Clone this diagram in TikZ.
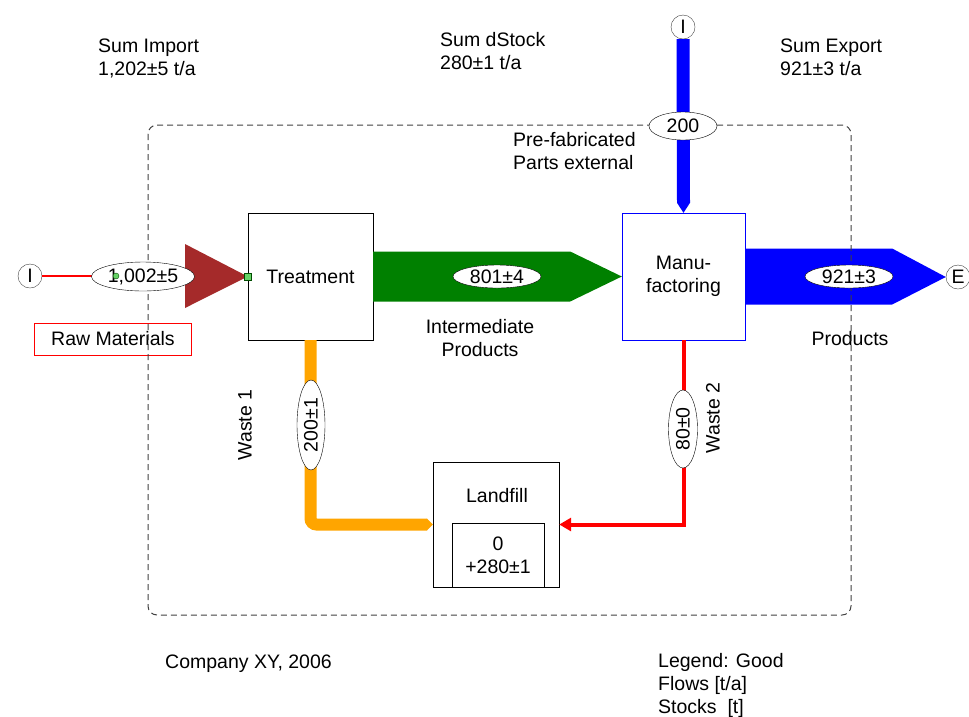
\documentclass[tikz,border=0pt]{standalone}
\usepackage{fontspec}
\setmainfont{Liberation Sans}
\usepackage{tikz}
\usetikzlibrary{arrows.meta,calc,positioning,shapes.geometric}
\definecolor{goodgreen}{RGB}{0,128,0}
\definecolor{goodblue}{RGB}{0,0,255}
\definecolor{rawred}{RGB}{165,42,42}
\definecolor{wasteorange}{RGB}{255,165,0}
\definecolor{wastered}{RGB}{255,0,0}

\begin{document}
\begin{tikzpicture}[
  x=1pt,y=-1pt,
  font=\fontsize{19.5}{23}\selectfont,
  process/.style={rectangle,draw=black,fill=white,minimum width=125pt,minimum height=127pt,inner sep=0pt},
  valbox/.style={ellipse,draw=black,fill=white,inner sep=0pt,minimum width=88pt,minimum height=23pt},
  terminal/.style={circle,draw=black!75,fill=white,inner sep=0pt,minimum size=24pt},
  txt/.style={align=left,anchor=north west,inner sep=0pt},
  boundary/.style={draw=black!75,line width=1pt,dash pattern=on 6pt off 4pt,rounded corners=9pt},
  waste/.style={rotate=90,inner sep=0pt}
]
\useasboundingbox (0,0) rectangle (969,716);
% Processes
\node[process] (treat) at (310.5,276.5) {Treatment};
\node[process,draw=goodblue,minimum width=123pt,align=center] (manu) at (683.5,276.5) {Manu-\\factoring};
\node[process,minimum width=126pt,minimum height=125pt] (landfill) at (496,524.5) {};
\node[rectangle,draw=black,minimum width=92pt,minimum height=64pt,align=center,inner sep=0pt]
  (stock) at (498,555) {0\\+280±1};
\node[inner sep=0pt] (lflabel) at (497,496) {Landfill};
% Import / export terminals
\node[terminal] (imp1) at (30,276) {I};
\node[terminal] (imp2) at (683,27) {I};
\node[terminal] (exp1) at (958,277) {E};
\node[rectangle,draw=wastered,minimum width=157pt,minimum height=32pt,inner sep=0pt]
  (rawlab) at (113,339) {Raw Materials};
\coordinate (rawbase) at (185,276);
% Flows
\draw[wastered,line width=1.2pt] (imp1) -- (rawbase);
\fill[rawred] ($(rawbase)+(0,-32)$) -- (treat.west) -- ($(rawbase)+(0,32)$) -- cycle;
\fill[goodgreen] ($(treat.east)+(0,-25)$) -- ++(197,0) -- (manu.west)
  -- ($(treat.east)+(197,25)$) -- ($(treat.east)+(0,25)$) -- cycle;
\fill[goodblue] ($(manu.east)+(0,-28)$) -- ++(147,0) -- (exp1.west)
  -- ($(manu.east)+(147,28)$) -- ($(manu.east)+(0,28)$) -- cycle;
\fill[goodblue] ($(imp2.south)+(-6.5,0)$) -- ($(manu.north)+(-6.5,-10)$) -- (manu.north)
  -- ($(manu.north)+(6.5,-10)$) -- ($(imp2.south)+(6.5,0)$) -- cycle;
\draw[wasteorange,line width=12pt,rounded corners=6pt,-{Triangle[length=6pt,width=12pt]}]
  (treat.south) |- (landfill.west);
\draw[wastered,line width=4pt,-{Triangle[length=12pt,width=13pt]}]
  (manu.south) |- (landfill.east);
% Texts
\node[txt] (pretext) at (513,132) {Pre-fabricated\\Parts external};
\node[align=center,anchor=north,inner sep=0pt] (intlab) at (480,319) {Intermediate\\Products};
\node[inner sep=0pt] (prodlab) at (850,339) {Products};
\node[waste] (w1lab) at (245,425) {Waste 1};
\node[waste] (w2lab) at (713,418) {Waste 2};
% System boundary
\draw[boundary] (148,125) rectangle (851,615);
% Flow values
\node[valbox,minimum width=103pt,minimum height=29pt] (v1) at (143,276.5) {1,002±5};
\node[valbox] (v2) at (497,276.5) {801±4};
\node[valbox] (v3) at (849,276.5) {921±3};
\node[valbox,minimum width=68pt,minimum height=28pt] (v4) at (683,126) {200};
\node[valbox,rotate=90,minimum width=90pt,minimum height=28pt] (v5) at (311,425) {200±1};
\node[valbox,rotate=90,minimum width=78pt,minimum height=29pt] (v6) at (683,429) {80±0};
\node[circle,draw=goodgreen!60!black,fill=green!70!black!60,inner sep=0pt,minimum size=6pt] (dot) at (116,276) {};
\node[rectangle,draw=goodgreen!60!black,fill=green!70!black!60,inner sep=0pt,minimum size=7pt] (port) at (treat.west) {};
% Summary
\node[txt] (sumimp) at (98,39) {Sum Import\\1,202±5 t/a};
\node[txt] (sumstock) at (440,32) {Sum dStock\\280±1 t/a};
\node[txt] (sumexp) at (780,39) {Sum Export\\921±3 t/a};
\node[txt] (company) at (165,655) {Company XY, 2006};
\node[txt] (legend) at (658,653) {Legend: Good\\Flows [t/a]\\Stocks\ \ [t]};
\end{tikzpicture}
\end{document}
